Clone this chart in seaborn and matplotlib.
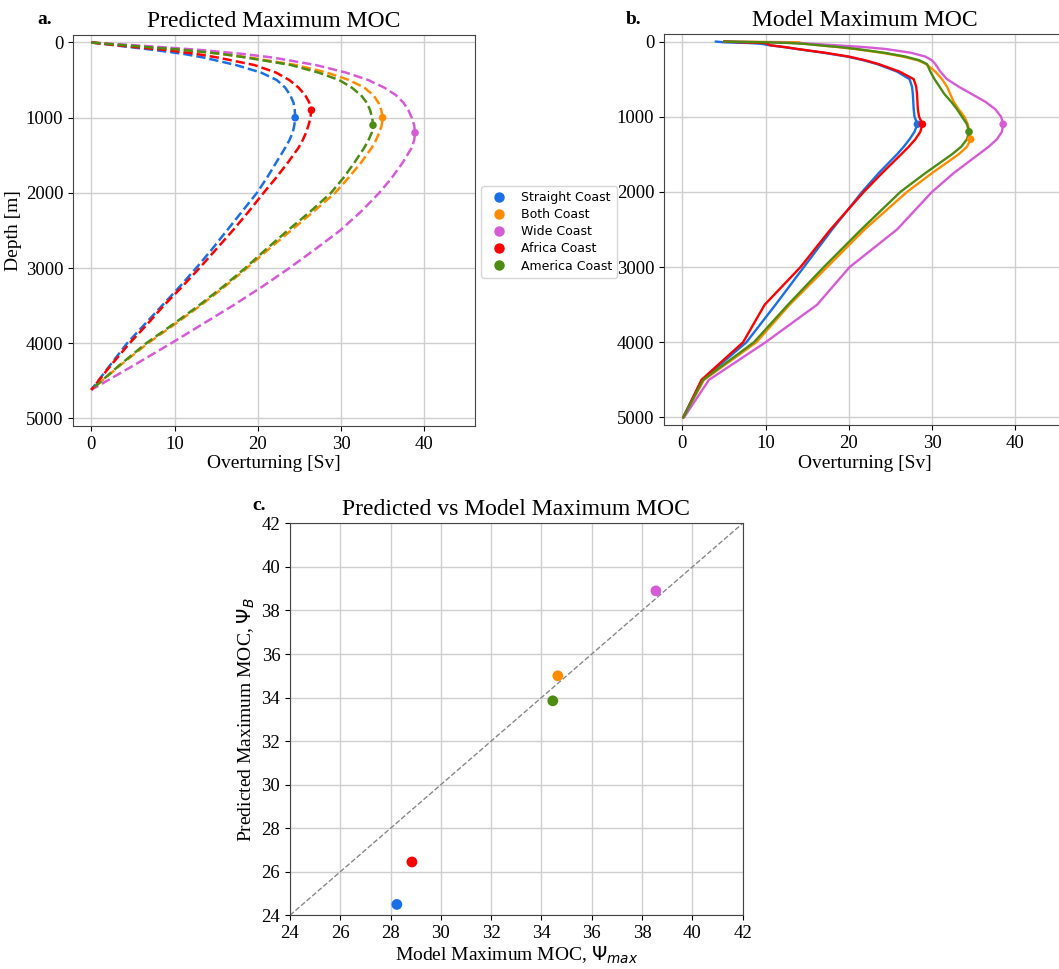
import numpy as np
import pandas as pd
import seaborn as sns
import matplotlib.pyplot as plt
from matplotlib.lines import Line2D

# Experiment names and colours
names = ['Straight Coast', 'Both Coast', 'Wide Coast', 'Africa Coast', 'America Coast']
colors = ['#1b6fe6', '#ff8c00', '#d65bd6', '#ff0000', '#4d8c12']

# Panel a: predicted profiles (depth in m, overturning in Sv)
a_depth = [0, 50, 100, 150, 200, 300, 400, 500, 600, 700, 800, 900, 1000, 1100, 1200,
           1300, 1400, 1600, 1800, 2000, 2250, 2500, 2750, 3000, 3250, 3500, 3750, 4000, 4300, 4620]
a_straight = [0, 3.8, 7.6, 11.0, 13.5, 17.4, 20.4, 22.3, 23.3, 23.9, 24.3, 24.45, 24.5, 24.4, 24.2,
              23.8, 23.3, 22.2, 21.1, 19.9, 18.1, 16.3, 14.5, 12.6, 10.6, 8.5, 6.4, 4.3, 2.2, 0]
a_both = [0, 5.5, 11.3, 15.6, 19.0, 24.6, 28.3, 31.0, 32.8, 33.9, 34.5, 34.85, 35.0, 34.9, 34.6,
          34.2, 33.7, 32.4, 30.9, 29.3, 26.7, 24.0, 21.3, 18.7, 16.0, 13.1, 10.0, 6.8, 3.4, 0]
a_wide = [0, 7.0, 13.2, 18.0, 21.8, 27.0, 30.6, 33.3, 35.2, 36.6, 37.5, 38.1, 38.5, 38.8, 38.9,
          38.8, 38.5, 37.4, 36.1, 34.6, 32.4, 29.9, 26.9, 23.8, 20.5, 17.0, 13.3, 9.6, 5.0, 0]
a_africa = [0, 4.3, 9.0, 12.5, 15.2, 19.6, 22.2, 23.8, 24.9, 25.7, 26.2, 26.4, 26.35, 26.1, 25.8,
            25.4, 24.9, 23.6, 22.2, 20.7, 18.9, 17.0, 15.0, 13.0, 10.9, 8.7, 6.7, 4.6, 2.3, 0]
a_america = [0, 5.5, 11.2, 15.5, 18.6, 24.0, 27.3, 29.8, 31.3, 32.4, 33.1, 33.5, 33.75, 33.85, 33.7,
             33.3, 32.8, 31.6, 30.3, 28.8, 26.3, 23.6, 21.0, 18.5, 15.8, 12.9, 9.8, 6.6, 3.3, 0]

# Panel b: model profiles
b_depth = [0, 10, 20, 30, 50, 75, 100, 150, 200, 250, 300, 400, 500, 600, 700, 800, 900, 1000,
           1100, 1200, 1300, 1400, 1500, 1750, 2000, 2500, 3000, 3500, 4000, 4500, 5000]
b_straight = [4.0, 5.0, 8.0, 9.5, 10.5, 12.3, 13.8, 17.0, 19.8, 21.8, 23.4, 25.8, 27.3, 27.6, 27.7,
              27.75, 27.8, 27.9, 28.25, 27.9, 27.3, 26.6, 25.8, 23.6, 21.6, 18.0, 14.6, 11.2, 7.7, 2.4, 0.1]
b_both = [5.0, 14.0, 14.3, 15.0, 16.5, 18.8, 20.8, 24.0, 26.5, 28.3, 29.3, 30.4, 31.2, 31.8, 32.2,
          32.6, 33.2, 33.9, 34.3, 34.5, 34.65, 34.2, 33.2, 30.0, 27.0, 21.9, 17.4, 12.9, 8.9, 2.6, 0.1]
b_wide = [5.0, 10.0, 13.5, 15.5, 18.5, 22.0, 24.5, 27.5, 29.2, 30.0, 30.4, 31.0, 31.8, 33.2, 34.8,
          36.4, 37.6, 38.3, 38.55, 38.4, 37.8, 36.8, 35.6, 32.6, 30.0, 25.8, 20.1, 16.2, 10.0, 3.2, 0.2]
b_africa = [5.0, 7.0, 10.0, 10.2, 10.6, 12.4, 13.9, 17.2, 20.0, 22.0, 23.6, 26.1, 27.8, 28.1, 28.2,
            28.25, 28.3, 28.45, 28.85, 28.6, 28.0, 27.2, 26.3, 24.0, 21.8, 17.8, 14.2, 9.9, 7.3, 2.3, 0.1]
b_america = [5.0, 10.0, 13.0, 14.5, 16.5, 19.0, 21.0, 24.3, 26.8, 28.5, 29.4, 29.8, 30.3, 30.9, 31.5,
             32.3, 33.0, 33.6, 34.2, 34.45, 34.2, 33.5, 32.4, 29.2, 26.2, 21.5, 17.0, 12.7, 8.6, 2.5, 0.1]

# Maxima (used for the dots and for panel c)
pred_max = [24.5, 35.0, 38.9, 26.45, 33.85]
pred_max_depth = [1000, 1000, 1200, 900, 1100]
model_max = [28.25, 34.65, 38.55, 28.85, 34.45]
model_max_depth = [1100, 1300, 1100, 1100, 1200]

a_profiles = [a_straight, a_both, a_wide, a_africa, a_america]
b_profiles = [b_straight, b_both, b_wide, b_africa, b_america]

sns.set_style('ticks', {'axes.grid': True, 'grid.color': '#cfcfcf', 'axes.edgecolor': '#444444'})
plt.rcParams['font.family'] = ['Liberation Serif', 'DejaVu Serif']
plt.rcParams['xtick.labelsize'] = 13.5
plt.rcParams['ytick.labelsize'] = 13.5
plt.rcParams['text.color'] = 'black'
plt.rcParams['axes.labelcolor'] = 'black'
plt.rcParams['xtick.color'] = 'black'
plt.rcParams['ytick.color'] = 'black'

fig = plt.figure(figsize=(10.59, 9.69), dpi=100)
ax_a = fig.add_axes([0.0689, 0.5604, 0.3796, 0.4035])
ax_b = fig.add_axes([0.627, 0.5614, 0.3796, 0.4035])
ax_c = fig.add_axes([0.2738, 0.0554, 0.4275, 0.4045])

# a. predicted profiles (dashed)
for vals, c in zip(a_profiles, colors):
    sns.lineplot(x=vals, y=a_depth, sort=False, estimator=None, color=c,
                 linestyle='--', linewidth=1.8, ax=ax_a)
sns.scatterplot(x=pred_max, y=pred_max_depth, hue=names, palette=colors, s=30,
                linewidth=0, legend=False, ax=ax_a, zorder=3)

# b. model profiles (solid)
for vals, c in zip(b_profiles, colors):
    sns.lineplot(x=vals, y=b_depth, sort=False, estimator=None, color=c,
                 linewidth=1.7, ax=ax_b)
sns.scatterplot(x=model_max, y=model_max_depth, hue=names, palette=colors, s=30,
                linewidth=0, legend=False, ax=ax_b, zorder=3)

for ax, title in [(ax_a, 'Predicted Maximum MOC'), (ax_b, 'Model Maximum MOC')]:
    ax.set_xlim(-2.2, 46.1)
    ax.set_ylim(5100, -100)
    ax.set_xticks([0, 10, 20, 30, 40])
    ax.set_yticks([0, 1000, 2000, 3000, 4000, 5000])
    ax.set_title(title, fontsize=17)
    ax.set_xlabel('Overturning [Sv]', fontsize=14, labelpad=2)
ax_a.set_ylabel('Depth [m]', fontsize=14, labelpad=3)
ax_b.set_ylabel('')

# c. predicted vs model maxima
sns.lineplot(x=[24, 42], y=[24, 42], color='#888888', linestyle='--', linewidth=1.0, ax=ax_c)
sns.scatterplot(x=model_max, y=pred_max, hue=names, palette=colors, s=60,
                linewidth=0, legend=False, ax=ax_c, zorder=3)
ax_c.set_xlim(24, 42)
ax_c.set_ylim(24, 42)
ax_c.set_xticks(range(24, 43, 2))
ax_c.set_yticks(range(24, 43, 2))
ax_c.set_title('Predicted vs Model Maximum MOC', fontsize=17)
ax_c.set_xlabel(r'Model Maximum MOC, $\Psi_{max}$', fontsize=14, labelpad=2)
ax_c.set_ylabel(r'Predicted Maximum MOC, $\Psi_B$', fontsize=14, labelpad=3)

for ax in [ax_a, ax_b, ax_c]:
    ax.grid(True, color='#cfcfcf', linewidth=1.0)
    ax.set_axisbelow(True)

# panel letters
fig.text(37 / 1059, 1 - 20 / 969, 'a.', fontsize=14, fontweight='bold', va='center')
fig.text(626 / 1059, 1 - 20 / 969, 'b.', fontsize=14, fontweight='bold', va='center')
fig.text(252 / 1059, 1 - 506 / 969, 'c.', fontsize=14, fontweight='bold', va='center')

# shared legend
handles = [Line2D([], [], marker='o', linestyle='', color=c, markersize=6.5) for c in colors]
fig.legend(handles, names, loc='upper left', bbox_to_anchor=(481 / 1059, 1 - 186 / 969),
           borderaxespad=0, prop={'family': 'DejaVu Sans', 'size': 9}, labelspacing=0.33,
           frameon=True)

fig.savefig('out.png', dpi=100)
